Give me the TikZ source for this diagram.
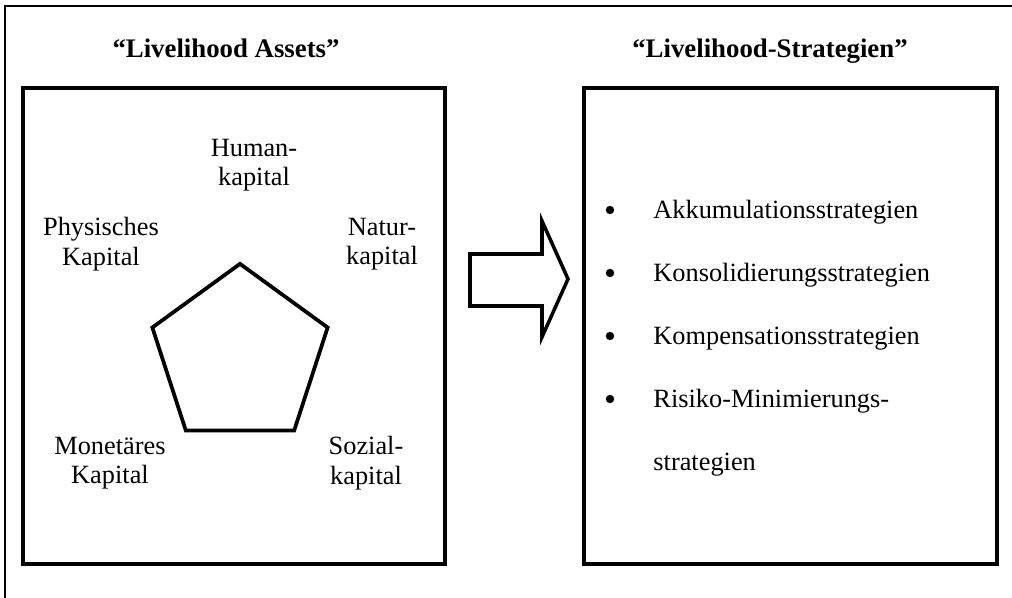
\documentclass[tikz,border=0pt]{standalone}
\usepackage{fontspec}
\setmainfont{Liberation Serif}
\usetikzlibrary{shapes.geometric}

\begin{document}
\begin{tikzpicture}[x=0.016cm, y=-0.016cm,
        every node/.style={font=\fontsize{12}{13.5}\selectfont},
        frame/.style={draw, line width=1.8pt, inner sep=0pt},
        label/.style={align=center, inner sep=0pt},
        title/.style={anchor=base, font=\fontsize{12.2}{13.5}\selectfont\bfseries},
        item/.style={anchor=base west, inner sep=0pt},
        dot/.style={circle, fill, inner sep=0pt, minimum size=0.135cm}]
    \useasboundingbox (0,0) rectangle (1012,598);
    % Outer frame
    \draw[line width=0.9pt] (5,598) -- (5,6) -- (1012,6);

    % Titles
    \node[title] at (226, 57) (assetsT) {“Livelihood Assets”};
    \node[title] at (770, 57) (stratT) {“Livelihood-Strategien”};

    % Boxes
    \node[frame, minimum width=6.752cm, minimum height=7.616cm] at (234, 326) (assets) {};
    \node[frame, minimum width=6.608cm, minimum height=7.616cm] at (790.5, 326) (strat) {};

    % Pentagon
    \node[draw, regular polygon, regular polygon sides=5, line width=1.7pt,
          minimum size=2.95cm, inner sep=0pt] at (240, 356) (pent) {};

    % Capital labels
    \node[label] at (254, 165) (human) {Human-\\kapital};
    \node[label] at (101, 244) (phys) {Physisches\\Kapital};
    \node[label] at (382, 244) (natur) {Natur-\\kapital};
    \node[label] at (110, 463) (money) {Monetäres\\Kapital};
    \node[label] at (366, 463) (sozial) {Sozial-\\kapital};

    % Arrow
    \draw[line width=1.6pt, line join=miter] (470,254) -- (542,254) -- (542,221)
        -- (568,279) -- (542,337) -- (542,306) -- (470,306) -- cycle;

    % Strategies
    \node[dot] at (610, 210) (b1) {};
    \node[item] at (653, 218) (s1) {Akkumulationsstrategien};
    \node[dot] at (610, 273) (b2) {};
    \node[item] at (653, 281) (s2) {Konsolidierungsstrategien};
    \node[dot] at (610, 336) (b3) {};
    \node[item] at (653, 344) (s3) {Kompensationsstrategien};
    \node[dot] at (610, 399) (b4) {};
    \node[item] at (653, 407) (s4) {Risiko-Minimierungs-};
    \node[item] at (653, 470) (s5) {strategien};
\end{tikzpicture}
\end{document}
